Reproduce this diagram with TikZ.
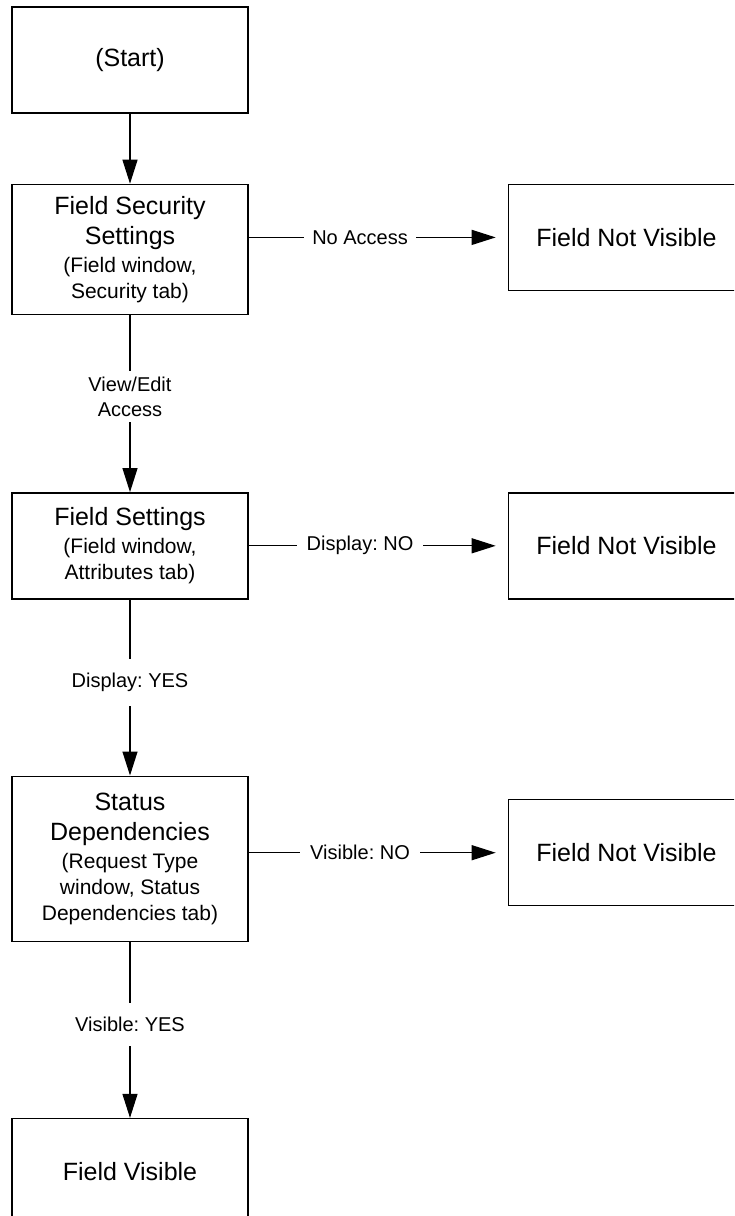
\documentclass[tikz,border=0pt]{standalone}
\usepackage{fontspec}
\setmainfont{Liberation Sans}
\usepackage{xcolor}
\usepackage{tikz}
\usetikzlibrary{positioning,arrows.meta}
\frenchspacing

\newcommand{\boxfont}{\fontsize{12.5}{15}\selectfont}
\newcommand{\notefont}{\fontsize{10.5}{13}\selectfont}
\newcommand{\edgefont}{\fontsize{10}{12.5}\selectfont}

\begin{document}
\begin{tikzpicture}[node distance=88pt,
    stepbox/.style={rectangle, draw, line width=0.7pt, fill=white, minimum width=118pt, minimum height=53pt, align=center, font=\boxfont, inner sep=2pt},
    flow/.style={-{Triangle[length=12pt,width=7.5pt]}, line width=0.6pt},
    edgelabel/.style={fill=white, font=\edgefont, align=center, inner xsep=5pt, inner ysep=7pt}]
      \useasboundingbox (0,0) rectangle (367pt,-608pt);
      \clip (0,0) rectangle (367pt,-608pt);
      % main column
      \node (start) [stepbox] at (65pt,-30pt) {(Start)};
      \node (fss) [stepbox, minimum height=65pt, below=35pt of start] {Field Security\\Settings\\[-1pt]\notefont(Field window,\\[-2pt]\notefont Security tab)};
      \node (fs) [stepbox, below=88.5pt of fss] {Field Settings\\[-1pt]\notefont(Field window,\\[-2pt]\notefont Attributes tab)};
      \node (sd) [stepbox, minimum height=82.5pt, below=of fs] {Status\\Dependencies\\[-1pt]\notefont(Request Type\\[-2pt]\notefont window, Status\\[-2pt]\notefont Dependencies tab)};
      \node (fv) [stepbox, below=of sd] {Field Visible};
      % dead ends
      \node (nv1) [stepbox, right=129.5pt of fss.north east, anchor=north west] {Field Not Visible};
      \node (nv2) [stepbox, right=129.5pt of fs] {Field Not Visible};
      \node (nv3) [stepbox, right=129.5pt of sd, yshift=3pt] {Field Not Visible};
      \draw[flow] (start) -- (fss);
      \draw[flow] (fss) -- node[edgelabel, pos=0.46, inner ysep=3pt] {View/Edit\\Access} (fs);
      \draw[flow] (fs) -- node[edgelabel, pos=0.47] {Display: YES} (sd);
      \draw[flow] (sd) -- node[edgelabel, pos=0.47] {Visible: YES} (fv);
      \draw[flow, shorten >=6pt] (fss.east |- nv1.west) -- node[edgelabel, pos=0.43, inner xsep=4pt] {No Access} (nv1.west);
      \draw[flow, shorten >=6pt] (fs.east |- nv2.west) -- node[edgelabel, pos=0.43] {Display: NO} (nv2.west);
      \draw[flow, shorten >=6pt] (sd.east |- nv3.west) -- node[edgelabel, pos=0.43] {Visible: NO} (nv3.west);
\end{tikzpicture}
\end{document}
